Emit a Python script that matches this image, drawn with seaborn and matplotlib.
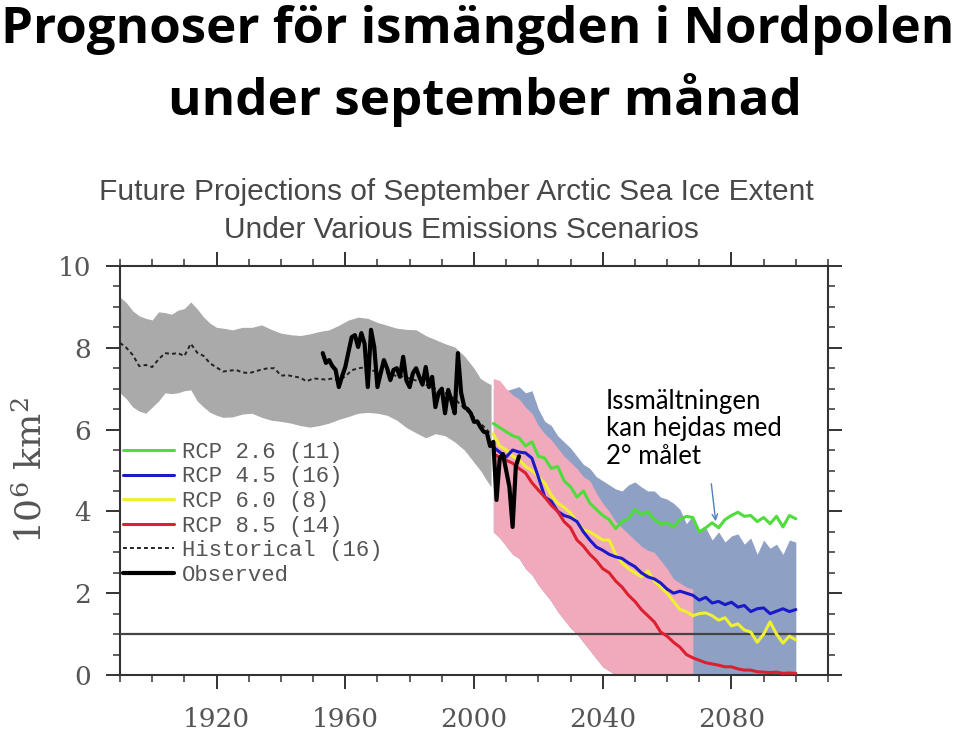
import numpy as np
import pandas as pd
import matplotlib
matplotlib.use("Agg")
import matplotlib.pyplot as plt
from matplotlib.lines import Line2D
from matplotlib.ticker import MultipleLocator
import seaborn as sns

# ---------------- data ----------------
hist_band_years = [1890, 1892, 1894, 1896, 1898, 1900, 1902, 1904, 1906, 1908, 1910, 1912, 1914, 1916,
                   1918, 1920, 1922, 1925, 1928, 1931, 1934, 1937, 1940, 1943, 1946, 1949, 1952, 1955,
                   1958, 1961, 1964, 1967, 1970, 1973, 1976, 1979, 1982, 1985, 1988, 1991, 1994, 1997,
                   2000, 2002, 2004, 2005.3]
hist_band_upper = [9.24, 9.1, 8.9, 8.78, 8.72, 8.68, 8.88, 8.86, 8.82, 8.92, 8.96, 9.12, 8.95, 8.75,
                   8.6, 8.5, 8.48, 8.44, 8.5, 8.5, 8.56, 8.45, 8.36, 8.32, 8.3, 8.34, 8.4, 8.44,
                   8.55, 8.68, 8.75, 8.72, 8.62, 8.55, 8.48, 8.45, 8.44, 8.3, 8.2, 8.1, 8.02, 7.8,
                   7.5, 7.25, 7.15, 7.1]
hist_band_lower = [6.9, 6.75, 6.55, 6.45, 6.4, 6.55, 6.7, 6.9, 6.88, 6.9, 6.95, 6.97, 6.7, 6.55,
                   6.42, 6.35, 6.3, 6.31, 6.38, 6.4, 6.3, 6.23, 6.2, 6.16, 6.1, 6.06, 6.1, 6.16,
                   6.25, 6.32, 6.4, 6.42, 6.4, 6.35, 6.23, 6.05, 5.92, 5.8, 5.9, 5.85, 5.7, 5.5,
                   5.2, 5.0, 4.75, 4.6]

hist_mean_years = [1890, 1892, 1894, 1896, 1898, 1900, 1902, 1904, 1906, 1908, 1910, 1912, 1914, 1916,
                   1918, 1920, 1922, 1924, 1926, 1928, 1930, 1932, 1934, 1936, 1938, 1940, 1942, 1944,
                   1946, 1948, 1950, 1952, 1954, 1956, 1958, 1960, 1962, 1964, 1966, 1968, 1970, 1972,
                   1974, 1976, 1978, 1980, 1982, 1984, 1986, 1988, 1990, 1992, 1994, 1996, 1998, 2000,
                   2002, 2004, 2005]
hist_mean = [8.12, 8.0, 7.82, 7.55, 7.58, 7.53, 7.72, 7.87, 7.85, 7.87, 7.8, 8.1, 7.88, 7.8,
             7.62, 7.52, 7.42, 7.44, 7.46, 7.4, 7.38, 7.42, 7.47, 7.5, 7.5, 7.32, 7.33, 7.3,
             7.27, 7.18, 7.25, 7.24, 7.22, 7.25, 7.2, 7.3, 7.45, 7.5, 7.52, 7.45, 7.42, 7.4,
             7.38, 7.3, 7.3, 7.25, 7.2, 7.15, 7.05, 7.0, 6.95, 6.85, 6.75, 6.6, 6.45, 6.3,
             6.15, 6.0, 5.9]

obs_years = list(range(1953, 2015))
observed = [7.87, 7.63, 7.7, 7.55, 7.46, 7.04, 7.3, 7.53, 7.9, 8.26, 8.31, 8.02, 8.36, 8.1,
            7.04, 8.44, 8.02, 7.04, 7.38, 7.7, 7.5, 7.21, 7.46, 7.5, 7.29, 7.78, 7.2, 7.04,
            7.38, 7.5, 7.29, 7.1, 7.53, 7.04, 7.29, 6.55, 6.9, 7.0, 6.4, 6.97, 6.7, 6.4,
            7.87, 6.9, 6.55, 6.5, 6.4, 6.19, 6.2, 6.06, 5.95, 5.92, 5.6, 5.7, 4.28, 5.3,
            5.4, 5.0, 4.6, 3.62, 5.1, 5.35]

rcp_years = list(range(2006, 2101, 2))
rcp26 = [6.15, 6.05, 5.95, 5.85, 5.8, 5.6, 5.7, 5.35, 5.3, 5.05, 5.1, 4.75, 4.6, 4.35, 4.5, 4.2,
         4.05, 3.9, 3.8, 3.58, 3.75, 3.82, 4.05, 3.92, 4.0, 3.8, 3.7, 3.72, 3.62, 3.8, 3.88, 3.85,
         3.5, 3.6, 3.72, 3.6, 3.8, 3.9, 3.98, 3.88, 3.9, 3.75, 3.85, 3.7, 3.88, 3.62, 3.9, 3.82]
rcp45 = [5.57, 5.45, 5.33, 5.5, 5.45, 5.43, 5.3, 4.84, 4.35, 4.25, 4.0, 3.9, 3.85, 3.75, 3.5, 3.3,
         3.13, 3.05, 2.95, 2.89, 2.85, 2.74, 2.65, 2.5, 2.4, 2.35, 2.25, 2.1, 2.0, 2.05, 2.0, 1.95,
         1.83, 1.9, 1.76, 1.8, 1.72, 1.78, 1.66, 1.7, 1.55, 1.62, 1.64, 1.5, 1.56, 1.62, 1.55, 1.6]
rcp60 = [5.9, 5.6, 5.5, 5.35, 5.26, 5.1, 5.0, 4.85, 4.69, 4.4, 4.2, 4.1, 3.96, 3.75, 3.55, 3.5,
         3.4, 3.3, 3.3, 2.95, 2.74, 2.6, 2.5, 2.4, 2.55, 2.3, 2.15, 2.0, 1.8, 1.6, 1.55, 1.45,
         1.5, 1.52, 1.45, 1.34, 1.4, 1.2, 1.25, 1.1, 1.05, 0.8, 1.0, 1.3, 1.0, 0.78, 0.95, 0.86]
rcp85 = [5.4, 5.33, 5.25, 5.18, 5.05, 4.94, 4.7, 4.52, 4.35, 4.15, 4.0, 3.75, 3.6, 3.3, 3.15, 2.95,
         2.8, 2.6, 2.5, 2.3, 2.15, 1.95, 1.8, 1.6, 1.45, 1.3, 1.05, 0.95, 0.8, 0.68, 0.5, 0.42,
         0.36, 0.3, 0.27, 0.24, 0.2, 0.2, 0.15, 0.12, 0.12, 0.08, 0.07, 0.06, 0.07, 0.04, 0.05, 0.04]

spread_upper = [7.0, 7.05, 6.95, 7.0, 7.05, 6.9, 6.95, 6.5, 6.2, 6.1, 5.85, 5.7, 5.55, 5.35, 5.15, 5.05,
                4.85, 4.75, 4.65, 4.55, 4.5, 4.65, 4.72, 4.6, 4.5, 4.5, 4.35, 4.3, 4.2, 4.05, 3.7, 3.9,
                3.5, 3.6, 3.3, 3.5, 3.25, 3.4, 3.45, 3.2, 3.35, 2.95, 3.3, 3.1, 3.2, 2.95, 3.3, 3.25]
spread_lower = [3.5, 3.35, 3.15, 2.95, 2.85, 2.6, 2.45, 2.2, 2.0, 1.8, 1.55, 1.35, 1.15, 1.0, 0.8, 0.6,
                0.4, 0.2, 0.1, 0.0, 0.0, 0.0, 0.0, 0.0, 0.0, 0.0, 0.0, 0.0, 0.0, 0.0, 0.0, 0.0,
                0.0, 0.0, 0.0, 0.0, 0.0, 0.0, 0.0, 0.0, 0.0, 0.0, 0.0, 0.0, 0.0, 0.0, 0.0, 0.0]

rcp85_band_years = list(range(2006, 2069, 2))
rcp85_band_upper = [7.25, 7.2, 7.0, 6.85, 6.75, 6.55, 6.4, 6.1, 5.9, 5.75, 5.55, 5.35, 5.2, 5.05, 4.85, 4.75,
                    4.45, 4.2, 4.0, 3.75, 3.6, 3.45, 3.3, 3.15, 3.05, 3.0, 2.8, 2.6, 2.35, 2.25, 2.15, 2.1]
rcp85_band_lower = [3.5, 3.35, 3.15, 2.95, 2.85, 2.6, 2.45, 2.2, 2.0, 1.8, 1.55, 1.35, 1.15, 1.0, 0.8, 0.6,
                    0.4, 0.2, 0.1, 0.0, 0.0, 0.0, 0.0, 0.0, 0.0, 0.0, 0.0, 0.0, 0.0, 0.0, 0.0, 0.0]

legend_labels = ["RCP 2.6 (11)", "RCP 4.5 (16)", "RCP 6.0 (8)", "RCP 8.5 (14)",
                 "Historical (16)", "Observed"]
x_ticks = [1920, 1960, 2000, 2040, 2080]
y_ticks = [0, 2, 4, 6, 8, 10]

slide_title_1 = "Prognoser för ismängden i Nordpolen"
slide_title_2 = "under september månad"
chart_title_1 = "Future Projections of September Arctic Sea Ice Extent"
chart_title_2 = "Under Various Emissions Scenarios"
note_text = "Issmältningen\nkan hejdas med\n2° målet"

# ---------------- style ----------------
sns.set_style("ticks")
plt.rcParams["font.family"] = ["DejaVu Serif"]
plt.rcParams["mathtext.fontset"] = "dejavuserif"

C_GREEN = "#4fdc3c"
C_BLUE = "#1a1ac8"
C_YELLOW = "#f0f032"
C_RED = "#dc2030"
C_TICK = "#555555"
C_SPINE = "#333333"

fig = plt.figure(figsize=(9.59, 7.30), dpi=100)
fig.patch.set_facecolor("white")
ax = fig.add_axes([120 / 959, 55 / 730, 708 / 959, 409 / 730])
ax.set_facecolor("white")

# bands
ax.fill_between(hist_band_years, hist_band_lower, hist_band_upper, color="#aaaaaa", lw=0, zorder=1)
ax.fill_between(rcp_years, spread_lower, spread_upper, color="#8ea1c4", lw=0, zorder=1)
ax.fill_between(rcp85_band_years, rcp85_band_lower, rcp85_band_upper, color="#f0aabb", lw=0, zorder=2)

ax.axhline(1.0, color="#444444", lw=1.6, zorder=3)

# lines via seaborn
hist_df = pd.DataFrame({"year": hist_mean_years, "extent": hist_mean})
sns.lineplot(data=hist_df, x="year", y="extent", ax=ax, color="#222222", lw=1.4,
             linestyle=(0, (2.0, 1.6)), zorder=4)

rcp_df = pd.DataFrame({"year": rcp_years, "RCP 2.6": rcp26, "RCP 4.5": rcp45,
                       "RCP 6.0": rcp60, "RCP 8.5": rcp85})
for col, colr in [("RCP 2.6", C_GREEN), ("RCP 6.0", C_YELLOW), ("RCP 4.5", C_BLUE), ("RCP 8.5", C_RED)]:
    sns.lineplot(data=rcp_df, x="year", y=col, ax=ax, color=colr, lw=2.2, zorder=5)

obs_df = pd.DataFrame({"year": obs_years, "extent": observed})
sns.lineplot(data=obs_df, x="year", y="extent", ax=ax, color="black", lw=3.0, zorder=6)

# axes
ax.set_xlim(1890, 2110)
ax.set_ylim(0, 10)
ax.set_xticks(x_ticks)
ax.set_xticklabels([str(t) for t in x_ticks])
ax.set_yticks(y_ticks)
ax.set_yticklabels([str(t) for t in y_ticks])
ax.xaxis.set_minor_locator(MultipleLocator(10))
ax.yaxis.set_minor_locator(MultipleLocator(0.5))
ax.tick_params(which="major", direction="out", length=10, width=1.4, color=C_SPINE,
               labelsize=19, labelcolor=C_TICK, top=True, right=True, labeltop=False, labelright=False)
ax.tick_params(axis="y", which="major", pad=11)
ax.tick_params(axis="x", which="major", pad=13)
ax.tick_params(which="minor", direction="out", length=5, width=1.1, color=C_SPINE,
               top=True, right=True)
for s in ax.spines.values():
    s.set_visible(True)
    s.set_color(C_SPINE)
    s.set_linewidth(1.5)
ax.set_xlabel("")
ax.set_ylabel(r"10$^6$ km$^2$", fontsize=26, color=C_TICK, labelpad=6)

# legend
handles = [Line2D([], [], color=C_GREEN, lw=2.2),
           Line2D([], [], color=C_BLUE, lw=2.2),
           Line2D([], [], color=C_YELLOW, lw=2.2),
           Line2D([], [], color=C_RED, lw=2.2),
           Line2D([], [], color="#222222", lw=1.4, linestyle=(0, (2.0, 1.6))),
           Line2D([], [], color="black", lw=3.0)]
leg = ax.legend(handles, legend_labels, loc="upper left", bbox_to_anchor=(0.004, 0.570),
                frameon=False, borderpad=0, borderaxespad=0, handlelength=2.3, handletextpad=0.35,
                labelspacing=0.16, prop={"family": "Liberation Mono", "size": 16})
for t in leg.get_texts():
    t.set_color(C_TICK)

# titles
fig.text(478 / 959, 1 - 43 / 730, slide_title_1, ha="center", va="baseline", fontsize=36.8,
         fontweight="bold", family="Open Sans", color="black")
fig.text(485 / 959, 1 - 115 / 730, slide_title_2, ha="center", va="baseline", fontsize=36.8,
         fontweight="bold", family="Open Sans", color="black")
fig.text(456 / 959, 1 - 192 / 730, chart_title_1, ha="center", va="center", fontsize=21.5,
         family="Liberation Sans", color="#484848")
fig.text(461 / 959, 1 - 230 / 730, chart_title_2, ha="center", va="center", fontsize=21.5,
         family="Liberation Sans", color="#484848")

# annotation
fig.text(606 / 959, 1 - 389 / 730, note_text, ha="left", va="top", fontsize=18.5,
         family="Lato", color="black", linespacing=1.12)
ax.annotate("", xy=(716, 730 - 524), xycoords="figure pixels",
            xytext=(711, 730 - 481), textcoords="figure pixels",
            arrowprops=dict(arrowstyle="->", color="#4f81bd", lw=1.0, mutation_scale=10))

fig.savefig("out.png", dpi=100, facecolor="white")
